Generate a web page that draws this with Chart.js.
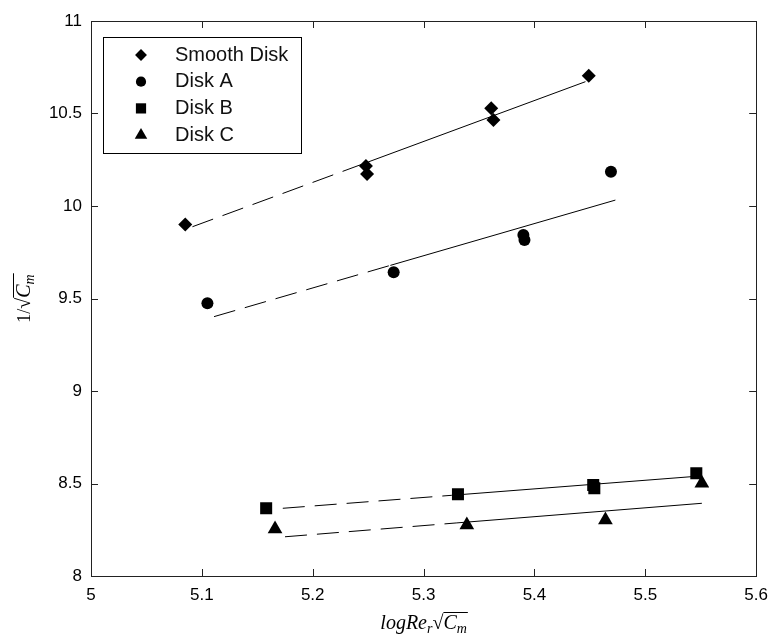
<!DOCTYPE html>
<html>
<head>
<meta charset="utf-8">
<script src="https://cdn.jsdelivr.net/npm/chart.js@4.4.1/dist/chart.umd.min.js"></script>
<style>
  html, body { margin: 0; padding: 0; background: #fff; }
  #wrap { width: 777px; height: 635px; }
</style>
</head>
<body>
<div id="wrap"><canvas id="chartCanvas"></canvas></div>
<script>
// measured points
const seriesNames = ['Smooth Disk', 'Disk A', 'Disk B', 'Disk C'];
const smoothX = [5.085, 5.248, 5.249, 5.361, 5.363, 5.449];
const smoothY = [9.900, 10.216, 10.173, 10.528, 10.465, 10.704];
const diskAX = [5.105, 5.273, 5.390, 5.391, 5.469];
const diskAY = [9.474, 9.642, 9.843, 9.816, 10.185];
const diskBX = [5.158, 5.331, 5.453, 5.454, 5.546];
const diskBY = [8.366, 8.442, 8.492, 8.474, 8.555];
const diskCX = [5.166, 5.339, 5.464, 5.551];
const diskCY = [8.254, 8.276, 8.303, 8.501];

// fitted lines: start, end of dashed part, end
const smoothFitX = [5.0915, 5.25, 5.446];
const smoothFitY = [9.888, 10.238, 10.672];
const diskAFitX = [5.111, 5.27, 5.473];
const diskAFitY = [9.402, 9.679, 10.032];
const diskBFitX = [5.173, 5.325, 5.542];
const diskBFitY = [8.366, 8.436, 8.537];
const diskCFitX = [5.175, 5.33, 5.551];
const diskCFitY = [8.212, 8.287, 8.393];

const xTicks = [5, 5.1, 5.2, 5.3, 5.4, 5.5, 5.6];
const yTicks = [8, 8.5, 9, 9.5, 10, 10.5, 11];

const markers = ['rectRot', 'circle', 'rect', 'triangle'];
const markerSize = [7, 6, 8.5, 8.5];

function pts(xs, ys) {
    return xs.map((x, i) => ({ x: x, y: ys[i] }));
}

function fitLine(xs, ys) {
    return {
        data: pts(xs, ys),
        showLine: true,
        borderColor: '#000',
        borderWidth: 1,
        pointRadius: 0,
        segment: {
            borderDash: c => c.p0DataIndex === 0 ? [22, 10] : undefined
        }
    };
}

function markerSet(i, xs, ys) {
    return {
        label: seriesNames[i],
        data: pts(xs, ys),
        pointStyle: markers[i],
        pointRadius: markerSize[i],
        pointHoverRadius: markerSize[i],
        backgroundColor: '#000',
        borderColor: '#000',
        borderWidth: 0,
        showLine: false
    };
}

function drawMarker(ctx, style, r, x, y) {
    ctx.beginPath();
    if (style === 'circle') {
        ctx.arc(x, y, r, 0, Math.PI * 2);
    } else if (style === 'rect') {
        const s = r * Math.SQRT1_2;
        ctx.rect(x - s, y - s, 2 * s, 2 * s);
    } else if (style === 'rectRot') {
        ctx.moveTo(x, y - r); ctx.lineTo(x + r, y); ctx.lineTo(x, y + r); ctx.lineTo(x - r, y);
    } else {
        const h = r * Math.sqrt(3) / 2;
        ctx.moveTo(x, y - r); ctx.lineTo(x + h, y + r / 2); ctx.lineTo(x - h, y + r / 2);
    }
    ctx.closePath();
    ctx.fill();
}

// box, inward ticks, legend and axis titles
const matlabFrame = {
    id: 'matlabFrame',
    afterDraw(chart) {
        const ctx = chart.ctx;
        const a = chart.chartArea;
        const xs = chart.scales.x, ys = chart.scales.y;
        ctx.save();
        ctx.strokeStyle = '#222';
        ctx.lineWidth = 1;
        ctx.strokeRect(Math.round(a.left) + 0.5, Math.round(a.top) + 0.5,
            Math.round(a.right - a.left), Math.round(a.bottom - a.top));
        ctx.beginPath();
        xTicks.forEach(v => {
            const px = Math.round(xs.getPixelForValue(v)) + 0.5;
            ctx.moveTo(px, a.bottom); ctx.lineTo(px, a.bottom - 7);
            ctx.moveTo(px, a.top); ctx.lineTo(px, a.top + 7);
        });
        yTicks.forEach(v => {
            const py = Math.round(ys.getPixelForValue(v)) + 0.5;
            ctx.moveTo(a.left, py); ctx.lineTo(a.left + 7, py);
            ctx.moveTo(a.right, py); ctx.lineTo(a.right - 7, py);
        });
        ctx.stroke();

        // legend
        const lx = 103, ly = 37, lw = 198, lh = 116;
        ctx.fillStyle = '#fff';
        ctx.fillRect(lx, ly, lw, lh);
        ctx.strokeStyle = '#000';
        ctx.strokeRect(lx + 0.5, ly + 0.5, lw, lh);
        ctx.font = '20px "Liberation Sans", Arial, sans-serif';
        ctx.textBaseline = 'middle';
        seriesNames.forEach((name, i) => {
            const y = ly + 18 + i * 26.7;
            ctx.fillStyle = '#000';
            drawMarker(ctx, markers[i], markerSize[i] * 0.85, 141, y);
            ctx.fillStyle = '#111';
            ctx.fillText(name, 175, y);
        });

        // x title: logRe_r sqrt(C_m)
        ctx.fillStyle = '#000';
        ctx.textBaseline = 'alphabetic';
        const big = 'italic 20px "Liberation Serif", "DejaVu Serif", serif';
        const small = 'italic 14px "Liberation Serif", "DejaVu Serif", serif';
        const up = '20px "Liberation Serif", "DejaVu Serif", serif';
        function mathText(parts, x0, y0, measureOnly) {
            let x = x0;
            let barStart = null;
            parts.forEach(p => {
                ctx.font = p.f;
                const w = ctx.measureText(p.t).width;
                if (!measureOnly) ctx.fillText(p.t, x, y0 + (p.dy || 0));
                if (p.bar && barStart === null) barStart = x;
                x += w;
            });
            if (!measureOnly && barStart !== null) {
                ctx.beginPath();
                ctx.moveTo(barStart, y0 - 16.5);
                ctx.lineTo(x + 1, y0 - 16.5);
                ctx.lineWidth = 1;
                ctx.stroke();
            }
            return x - x0;
        }
        const xParts = [
            { t: 'logRe', f: big },
            { t: 'r', f: small, dy: 4 },
            { t: '\u221A', f: up },
            { t: 'C', f: big, bar: true },
            { t: 'm', f: small, dy: 4, bar: true }
        ];
        const xw = mathText(xParts, 0, 0, true);
        mathText(xParts, (a.left + a.right) / 2 - xw / 2, 629, false);

        // y title: 1/sqrt(C_m)
        const yParts = [
            { t: '1/', f: '18px "Liberation Serif", "DejaVu Serif", serif' },
            { t: '\u221A', f: up },
            { t: 'C', f: big, bar: true },
            { t: 'm', f: small, dy: 4, bar: true }
        ];
        const yw = mathText(yParts, 0, 0, true);
        ctx.translate(30, (a.top + a.bottom) / 2);
        ctx.rotate(-Math.PI / 2);
        mathText(yParts, -yw / 2, 0, false);
        ctx.restore();
    }
};

const ctx = document.getElementById('chartCanvas').getContext('2d');
const myChart = new Chart(ctx, {
    type: 'scatter',
    data: {
        datasets: [
            markerSet(0, smoothX, smoothY),
            markerSet(1, diskAX, diskAY),
            markerSet(2, diskBX, diskBY),
            markerSet(3, diskCX, diskCY),
            fitLine(smoothFitX, smoothFitY),
            fitLine(diskAFitX, diskAFitY),
            fitLine(diskBFitX, diskBFitY),
            fitLine(diskCFitX, diskCFitY)
        ]
    },
    options: {
        responsive: true,
        maintainAspectRatio: false,
        animation: false,
        layout: { padding: { top: 21, right: 15, left: 0, bottom: 0 } },
        plugins: {
            legend: { display: false },
            tooltip: { enabled: false }
        },
        scales: {
            x: {
                type: 'linear',
                min: 5,
                max: 5.6,
                afterBuildTicks: s => { s.ticks = xTicks.map(v => ({ value: v })); },
                afterFit: s => { s.height = 59; },
                grid: { display: false, drawTicks: false },
                border: { display: false },
                ticks: {
                    padding: 9,
                    color: '#000',
                    font: { family: '"Liberation Sans", Arial, sans-serif', size: 17 },
                    callback: v => String(+v.toFixed(2))
                }
            },
            y: {
                type: 'linear',
                min: 8,
                max: 11,
                afterBuildTicks: s => { s.ticks = yTicks.map(v => ({ value: v })); },
                afterFit: s => { s.width = 91; },
                grid: { display: false, drawTicks: false },
                border: { display: false },
                ticks: {
                    padding: 9,
                    color: '#000',
                    font: { family: '"Liberation Sans", Arial, sans-serif', size: 17 },
                    callback: v => String(+v.toFixed(2))
                }
            }
        }
    },
    plugins: [matlabFrame]
});
</script>
</body>
</html>
